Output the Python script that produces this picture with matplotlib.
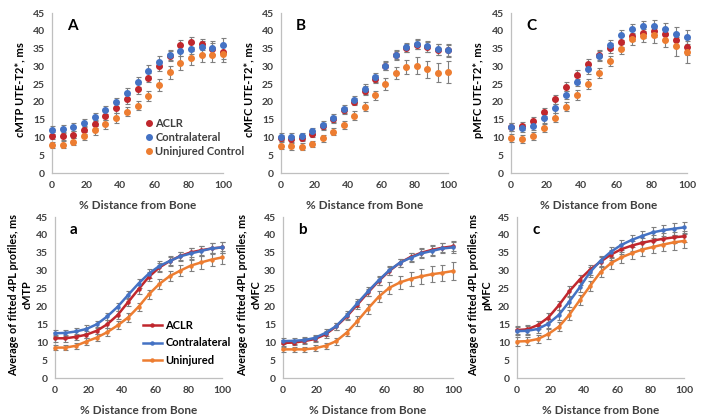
import numpy as np
import matplotlib.pyplot as plt
from matplotlib.lines import Line2D

plt.rcParams['font.family'] = ['Lato', 'DejaVu Sans']
plt.rcParams['font.weight'] = 'bold'

# % distance from bone (17 positions)
dist = np.arange(17) * 6.25

# --- measured UTE-T2* (top row) ---
A_aclr = [10.5, 10.4, 10.8, 12.1, 13.8, 16.1, 18.2, 20.7, 23.6, 26.8, 30.2, 33.0, 35.9, 36.8, 36.2, 34.8, 34.1]
A_contra = [12.1, 12.3, 13.0, 14.0, 15.7, 17.7, 19.9, 22.5, 25.6, 28.8, 31.3, 33.2, 34.4, 35.0, 35.3, 35.2, 35.9]
A_unin = [7.8, 8.0, 8.8, 10.3, 12.0, 13.7, 15.5, 17.2, 18.9, 21.7, 24.8, 28.3, 30.9, 32.3, 33.2, 33.2, 33.5]
A_err_aclr = [1.0, 1.0, 1.0, 1.0, 1.2, 1.2, 1.3, 1.3, 1.3, 1.3, 1.4, 1.4, 1.4, 1.4, 1.5, 1.7, 2.0]
A_err_contra = [1.0, 1.1, 1.1, 1.1, 1.2, 1.2, 1.3, 1.3, 1.4, 1.5, 1.5, 1.5, 1.6, 1.6, 1.7, 1.8, 2.0]
A_err_unin = [0.9, 0.9, 1.0, 1.1, 1.2, 1.2, 1.3, 1.3, 1.3, 1.4, 1.6, 1.8, 2.0, 2.0, 2.0, 2.0, 2.2]

B_aclr = [9.8, 9.6, 9.8, 11.0, 13.1, 15.1, 17.7, 20.1, 23.2, 26.5, 30.1, 33.1, 35.2, 36.1, 35.5, 34.7, 34.5]
B_contra = [10.2, 10.2, 10.3, 11.7, 13.4, 15.4, 18.1, 20.5, 23.6, 26.9, 30.2, 33.3, 35.3, 36.3, 35.6, 34.8, 34.5]
B_unin = [7.7, 7.5, 7.4, 8.2, 9.8, 11.6, 13.6, 16.1, 18.6, 21.8, 25.0, 28.1, 29.8, 30.2, 29.2, 28.2, 28.4]
B_err_aclr = [0.9, 0.9, 0.9, 0.9, 1.0, 1.0, 1.0, 1.1, 1.2, 1.2, 1.2, 1.2, 1.2, 1.3, 1.4, 1.5, 1.6]
B_err_contra = [1.0, 1.0, 1.0, 1.0, 1.1, 1.1, 1.1, 1.2, 1.3, 1.3, 1.3, 1.3, 1.3, 1.4, 1.5, 1.6, 1.8]
B_err_unin = [0.9, 0.9, 0.9, 0.9, 1.0, 1.0, 1.1, 1.2, 1.3, 1.4, 1.6, 1.8, 2.0, 2.3, 2.4, 2.7, 3.0]

C_aclr = [13.0, 13.2, 14.5, 17.2, 20.7, 24.3, 27.6, 30.6, 33.3, 35.2, 36.9, 38.6, 39.5, 39.8, 39.2, 37.4, 35.4]
C_contra = [13.0, 12.6, 13.3, 15.4, 18.2, 21.9, 25.7, 29.2, 32.9, 35.9, 38.8, 40.5, 41.3, 41.4, 40.5, 39.2, 38.3]
C_unin = [9.8, 9.6, 10.4, 12.7, 15.6, 18.7, 21.9, 25.0, 28.1, 31.6, 34.9, 37.7, 38.6, 38.7, 37.4, 35.6, 34.0]
C_err_aclr = [1.2, 1.2, 1.2, 1.2, 1.3, 1.3, 1.3, 1.4, 1.4, 1.4, 1.5, 1.5, 1.5, 1.6, 1.7, 1.9, 2.2]
C_err_contra = [1.1, 1.1, 1.1, 1.2, 1.2, 1.2, 1.3, 1.3, 1.4, 1.4, 1.4, 1.4, 1.4, 1.5, 1.6, 1.8, 2.0]
C_err_unin = [1.1, 1.1, 1.1, 1.2, 1.3, 1.3, 1.4, 1.4, 1.4, 1.4, 1.5, 1.6, 1.8, 2.0, 2.1, 2.6, 3.0]

# --- average of fitted 4PL profiles (bottom row) ---
a_aclr = [11.1, 11.1, 11.5, 12.1, 13.2, 15.0, 17.6, 21.2, 24.8, 28.3, 30.9, 32.7, 34.1, 35.1, 35.7, 36.2, 36.5]
a_contra = [12.5, 12.6, 13.0, 13.7, 15.0, 17.2, 19.9, 23.2, 26.4, 29.2, 31.3, 32.7, 34.0, 34.8, 35.5, 36.2, 36.5]
a_unin = [8.5, 8.5, 9.0, 10.2, 11.3, 12.8, 14.7, 16.9, 19.9, 23.4, 26.3, 28.5, 30.0, 31.4, 32.3, 33.1, 33.7]
a_err_aclr = [0.9, 0.9, 0.9, 1.0, 1.0, 1.1, 1.1, 1.2, 1.2, 1.2, 1.2, 1.2, 1.2, 1.3, 1.3, 1.4, 1.5]
a_err_contra = [0.9, 0.9, 0.9, 1.0, 1.0, 1.1, 1.1, 1.2, 1.3, 1.3, 1.3, 1.3, 1.3, 1.4, 1.5, 1.5, 1.6]
a_err_unin = [0.8, 0.8, 0.9, 1.0, 1.0, 1.1, 1.1, 1.2, 1.2, 1.3, 1.4, 1.5, 1.5, 1.6, 1.7, 1.7, 1.8]

b_aclr = [9.8, 9.9, 10.3, 10.9, 12.2, 14.4, 17.2, 20.5, 23.9, 27.1, 29.9, 32.2, 33.8, 35.0, 35.8, 36.4, 36.8]
b_contra = [10.3, 10.4, 10.6, 11.2, 12.6, 14.5, 17.5, 20.9, 24.2, 27.3, 30.1, 32.2, 33.6, 34.8, 35.5, 36.2, 36.5]
b_unin = [8.0, 8.0, 8.0, 8.3, 9.0, 10.3, 12.7, 15.9, 19.4, 22.7, 25.2, 26.7, 27.7, 28.4, 29.0, 29.4, 29.9]
b_err_aclr = [0.8, 0.8, 0.8, 0.9, 0.9, 1.0, 1.1, 1.1, 1.1, 1.1, 1.1, 1.1, 1.2, 1.2, 1.3, 1.3, 1.4]
b_err_contra = [0.9, 0.9, 0.9, 0.9, 1.0, 1.0, 1.1, 1.1, 1.2, 1.2, 1.2, 1.2, 1.2, 1.3, 1.3, 1.4, 1.5]
b_err_unin = [0.7, 0.7, 0.7, 0.8, 0.9, 1.0, 1.1, 1.3, 1.4, 1.5, 1.6, 1.8, 2.0, 2.1, 2.2, 2.3, 2.4]

c_aclr = [13.4, 13.6, 14.8, 16.9, 20.3, 24.2, 27.5, 30.3, 32.5, 34.5, 36.0, 37.0, 37.8, 38.4, 38.9, 39.3, 39.6]
c_contra = [13.1, 13.2, 13.7, 15.2, 17.6, 21.3, 25.3, 29.6, 32.8, 35.3, 37.2, 38.6, 39.7, 40.7, 41.3, 41.7, 42.1]
c_unin = [10.2, 10.3, 10.9, 12.3, 14.3, 17.6, 21.7, 25.7, 29.6, 32.1, 33.7, 34.9, 35.9, 36.6, 37.3, 37.9, 38.3]
c_err_aclr = [1.2, 1.2, 1.2, 1.3, 1.3, 1.4, 1.4, 1.4, 1.4, 1.4, 1.4, 1.4, 1.4, 1.5, 1.5, 1.6, 1.6]
c_err_contra = [1.2, 1.2, 1.2, 1.3, 1.3, 1.4, 1.4, 1.4, 1.4, 1.4, 1.4, 1.4, 1.4, 1.5, 1.5, 1.6, 1.6]
c_err_unin = [1.2, 1.2, 1.2, 1.3, 1.3, 1.4, 1.4, 1.4, 1.5, 1.5, 1.5, 1.6, 1.7, 1.8, 1.9, 2.0, 2.0]

top_labels = ['ACLR', 'Contralateral', 'Uninjured Control']
bottom_labels = ['ACLR', 'Contralateral', 'Uninjured']

RED = '#c0272d'
BLUE = '#4472c4'
ORANGE = '#ed7d31'
COLORS = [RED, BLUE, ORANGE]
ERR = '#7f7f7f'
TXT = '#404040'

W, H = 701, 419
fig = plt.figure(figsize=(W / 100, H / 100), dpi=100)


def make_ax(x0, x1, y0, y1):
    # pixel box -> figure fraction
    return fig.add_axes([x0 / W, 1 - y1 / H, (x1 - x0) / W, (y1 - y0) / H])


def style(ax, letter):
    ax.set_xlim(0, 100)
    ax.set_ylim(0, 45)
    ax.set_xticks(range(0, 101, 20))
    ax.set_yticks(range(0, 46, 5))
    for s in ['top', 'right']:
        ax.spines[s].set_visible(False)
    for s in ['left', 'bottom']:
        ax.spines[s].set_color('#bfbfbf')
        ax.spines[s].set_linewidth(0.9)
    ax.tick_params(axis='y', length=0, pad=5, labelsize=7.5, labelcolor=TXT)
    ax.tick_params(axis='x', length=0, pad=6, labelsize=7.5, labelcolor=TXT)
    for lab in ax.get_xticklabels() + ax.get_yticklabels():
        lab.set_fontweight('bold')
    ax.set_xlabel('% Distance from Bone', fontsize=8.5, fontweight='bold', color=TXT, labelpad=7)
    ax.text(0.09, 0.96, letter, transform=ax.transAxes, fontsize=11, fontweight='bold',
            va='top', ha='left')


def side_label(text, xpx, ypx, size):
    fig.text(xpx / W, 1 - ypx / H, text, rotation=90, ha='center', va='center',
             fontsize=size, fontweight='bold')


def measured(ax, ys, errs):
    for y, e, c in zip(ys, errs, COLORS):
        ax.errorbar(dist, y, yerr=e, fmt='o', color=c, ms=4.0, ecolor=ERR, elinewidth=0.8,
                    capsize=1.8, capthick=0.8, clip_on=False, zorder=3)


def fitted(ax, ys, errs):
    for y, e, c in zip(ys, errs, COLORS):
        ax.errorbar(dist, y, yerr=e, fmt='-o', color=c, lw=1.8, ms=2.2, ecolor=ERR,
                    elinewidth=0.8, capsize=1.8, capthick=0.8, clip_on=False, zorder=3)


axA = make_ax(52, 223, 13, 173)
measured(axA, [A_aclr, A_contra, A_unin], [A_err_aclr, A_err_contra, A_err_unin])
style(axA, 'A')
side_label('cMTP UTE-T2*, ms', 20, 90, 8)
h_top = [Line2D([], [], ls='none', marker='o', ms=4.0, color=c) for c in COLORS]
leg = axA.legend(h_top, top_labels, loc='lower left', bbox_to_anchor=(0.5, 0.07),
                 frameon=False, fontsize=8, handletextpad=0.0, labelspacing=0.3,
                 borderaxespad=0, handlelength=1.2)
for t in leg.get_texts():
    t.set_fontweight('bold')
    t.set_color(TXT)

axB = make_ax(281, 448, 13, 173)
measured(axB, [B_aclr, B_contra, B_unin], [B_err_aclr, B_err_contra, B_err_unin])
style(axB, 'B')
side_label('cMFC UTE-T2*, ms', 249, 90, 8)

axC = make_ax(511, 687, 13, 173)
measured(axC, [C_aclr, C_contra, C_unin], [C_err_aclr, C_err_contra, C_err_unin])
style(axC, 'C')
side_label('pMFC UTE-T2*, ms', 479, 90, 8)

axa = make_ax(55, 222, 217, 378)
fitted(axa, [a_aclr, a_contra, a_unin], [a_err_aclr, a_err_contra, a_err_unin])
style(axa, 'a')
side_label('Average of fitted 4PL profiles, ms', 14, 295, 7.8)
side_label('cMTP', 27, 295, 7.8)
h_bot = [Line2D([], [], lw=1.8, marker='o', ms=2.2, color=c) for c in COLORS]
leg2 = axa.legend(h_bot, bottom_labels, loc='lower left', bbox_to_anchor=(0.5, 0.05),
                  frameon=False, fontsize=8, handletextpad=0.3, labelspacing=0.55,
                  borderaxespad=0, handlelength=1.7)
for t in leg2.get_texts():
    t.set_fontweight('bold')
    t.set_color('#000000')

axb = make_ax(283, 453, 217, 378)
fitted(axb, [b_aclr, b_contra, b_unin], [b_err_aclr, b_err_contra, b_err_unin])
style(axb, 'b')
side_label('Average of fitted 4PL profiles, ms', 243, 295, 7.8)
side_label('cMFC', 256, 295, 7.8)

axc = make_ax(517, 684, 217, 378)
fitted(axc, [c_aclr, c_contra, c_unin], [c_err_aclr, c_err_contra, c_err_unin])
style(axc, 'c')
side_label('Average of fitted 4PL profiles, ms', 474, 295, 7.8)
side_label('pMFC', 487, 295, 7.8)

fig.savefig('out.png', dpi=100)
